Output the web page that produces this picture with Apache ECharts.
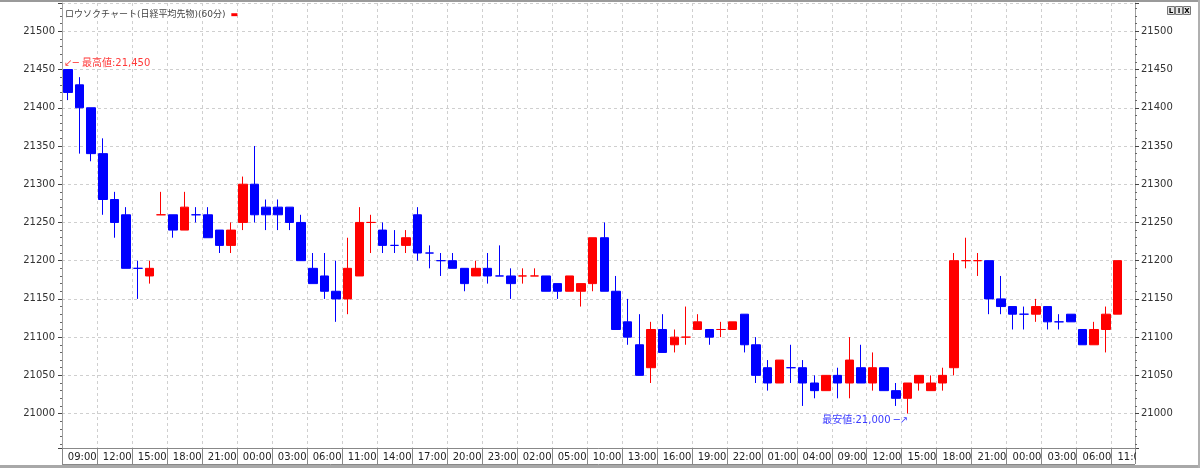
<!DOCTYPE html>
<html>
<head>
<meta charset="utf-8">
<script src="https://cdn.jsdelivr.net/npm/echarts@6/dist/echarts.min.js"></script>
<style>
  html, body { margin: 0; padding: 0; background: #fff; }
  #chart { width: 1200px; height: 468px; }
</style>
</head>
<body>
<div id="chart"></div>
<script>
// hourly labels (one per candle slot, the last slot is empty)
var times = [
    '09:00','10:00','11:00','12:00','13:00','14:00','15:00','16:00','17:00','18:00',
    '19:00','20:00','21:00','22:00','23:00','00:00','01:00','02:00','03:00','04:00',
    '05:00','06:00','07:00','10:00','11:00','12:00','13:00','14:00','15:00','16:00',
    '17:00','18:00','19:00','20:00','21:00','22:00','23:00','00:00','01:00','02:00',
    '03:00','04:00','05:00','06:00','09:00','10:00','11:00','12:00','13:00','14:00',
    '15:00','16:00','17:00','18:00','19:00','20:00','21:00','22:00','23:00','00:00',
    '01:00','02:00','03:00','04:00','05:00','08:00','09:00','10:00','11:00','12:00',
    '13:00','14:00','15:00','16:00','17:00','18:00','19:00','20:00','21:00','22:00',
    '23:00','00:00','01:00','02:00','03:00','04:00','05:00','06:00','07:00','10:00',
    '11:00','12:00'
];

var open = [
    21450,21430,21400,21340,21280,21260,21190,21180,21260,21260,
    21240,21260,21260,21240,21220,21250,21300,21270,21270,21270,
    21250,21190,21180,21160,21150,21180,21250,21240,21220,21220,
    21260,21210,21200,21200,21190,21180,21190,21180,21180,21180,
    21180,21180,21170,21160,21160,21170,21230,21160,21120,21090,
    21060,21110,21090,21100,21110,21110,21110,21110,21130,21090,
    21060,21040,21060,21060,21040,21030,21050,21040,21060,21040,
    21060,21030,21020,21040,21030,21040,21060,21200,21200,21200,
    21150,21140,21130,21130,21140,21120,21130,21110,21090,21110,
    21130
];
var close = [
    21420,21400,21340,21280,21250,21190,21190,21190,21260,21240,
    21270,21260,21230,21220,21240,21300,21260,21260,21260,21250,
    21200,21170,21160,21150,21190,21250,21250,21220,21220,21230,
    21210,21210,21200,21190,21170,21190,21180,21180,21170,21180,
    21180,21160,21160,21180,21170,21230,21160,21110,21100,21050,
    21110,21080,21100,21100,21120,21100,21110,21120,21090,21050,
    21040,21070,21060,21040,21030,21050,21040,21070,21040,21060,
    21030,21020,21040,21050,21040,21050,21200,21200,21200,21150,
    21140,21130,21130,21140,21120,21120,21120,21090,21110,21130,
    21200
];
var low = [
    21410,21340,21330,21260,21230,21190,21150,21170,21260,21230,
    21240,21250,21230,21210,21210,21240,21250,21240,21240,21240,
    21200,21170,21150,21120,21130,21180,21210,21210,21210,21210,
    21200,21190,21180,21190,21160,21180,21170,21180,21150,21170,
    21180,21160,21150,21160,21140,21160,21160,21110,21090,21050,
    21040,21080,21080,21090,21110,21090,21100,21110,21080,21040,
    21030,21040,21040,21010,21020,21030,21020,21020,21040,21030,
    21030,21010,21000,21030,21030,21030,21050,21190,21180,21130,
    21130,21110,21110,21120,21110,21110,21120,21090,21090,21080,
    21130
];
var high = [
    21450,21440,21400,21360,21290,21270,21200,21200,21290,21260,
    21290,21270,21270,21240,21250,21310,21350,21280,21280,21270,
    21260,21210,21210,21200,21230,21270,21260,21250,21240,21240,
    21270,21220,21210,21210,21190,21200,21210,21220,21190,21190,
    21190,21180,21170,21180,21170,21230,21250,21180,21150,21130,
    21120,21130,21110,21140,21130,21110,21120,21120,21130,21100,
    21070,21070,21090,21070,21050,21050,21060,21100,21090,21080,
    21060,21040,21040,21050,21050,21060,21210,21230,21210,21200,
    21180,21140,21140,21150,21140,21130,21130,21110,21120,21140,
    21200
];
// doji candles (open == close) drawn in red; the other dojis are blue
var redDoji = [8, 26, 39, 40, 53, 56, 77, 78];

var RED = '#ff0000', BLUE = '#0000ff';
var FONT = 'DejaVu Sans, "Noto Sans CJK JP", sans-serif';

var candles = open.map(function (o, i) {
    var item = { value: [o, close[i], low[i], high[i]] };
    if (o === close[i]) {
        var c = redDoji.indexOf(i) >= 0 ? RED : BLUE;
        item.itemStyle = { color: c, color0: c, borderColor: c, borderColor0: c, borderColorDoji: c };
    }
    return item;
});

function fmt(v) {
    return String(v).replace(/\B(?=(\d{3})+(?!\d))/g, ',');
}

var yCommon = {
    type: 'value',
    min: 20955,
    max: 21537,
    splitNumber: 12,
    minInterval: 50,
    maxInterval: 50,
    axisLine: { show: true, lineStyle: { color: '#a0a0a0' } },
    axisTick: { show: true, length: 4, lineStyle: { color: '#444' } },
    minorTick: { show: true, splitNumber: 5, length: 2, lineStyle: { color: '#666' } },
    axisLabel: {
        showMinLabel: false, showMaxLabel: false,
        color: '#333', fontSize: 10, fontFamily: FONT,
        formatter: function (v) { return String(v); }
    }
};

var chart = echarts.init(document.getElementById('chart'));

var option = {
    animation: false,
    backgroundColor: '#fff',
    title: {
        left: 65, top: 6, padding: 0,
        text: '{t|ロウソクチャート(日経平均先物)(60分)} {r|▬}',
        textStyle: {
            fontWeight: 'normal',
            rich: {
                t: { fontSize: 9, color: '#444', fontWeight: 'normal', fontFamily: FONT },
                r: { fontSize: 8, color: RED, fontWeight: 'normal', fontFamily: FONT }
            }
        }
    },
    grid: { left: 62, right: 65, top: 3, bottom: 20 },
    xAxis: {
        type: 'category',
        data: times,
        boundaryGap: true,
        axisLine: { lineStyle: { color: '#888' } },
        axisTick: { show: true, interval: 2, length: 16, lineStyle: { color: '#888' } },
        axisLabel: {
            interval: 2, align: 'left', margin: 4,
            color: '#222', fontSize: 10, fontFamily: FONT
        },
        splitLine: { show: true, interval: 2, lineStyle: { color: '#cfcfcf', type: [3, 3] } }
    },
    yAxis: [
        Object.assign({}, yCommon, {
            position: 'left',
            axisLabel: Object.assign({}, yCommon.axisLabel, { margin: 7 }),
            splitLine: { show: true, lineStyle: { color: '#cfcfcf', type: [3, 3] } }
        }),
        Object.assign({}, yCommon, {
            position: 'right',
            axisLabel: Object.assign({}, yCommon.axisLabel, { margin: 6 }),
            splitLine: { show: false }
        })
    ],
    series: [{
        type: 'candlestick',
        data: candles,
        barWidth: 9,
        itemStyle: {
            color: RED, color0: BLUE,
            borderColor: RED, borderColor0: BLUE,
            borderWidth: 1
        },
        markPoint: {
            symbol: 'circle',
            symbolSize: 1,
            itemStyle: { color: 'rgba(0,0,0,0)' },
            data: [{
                type: 'max', valueDim: 'highest',
                label: {
                    position: 'right', distance: 0, offset: [-4, -6],
                    color: '#ff3a3a', fontSize: 10, fontFamily: FONT,
                    formatter: function (p) { return '↙─ 最高値:' + fmt(p.value); }
                }
            }, {
                type: 'min', valueDim: 'lowest',
                label: {
                    position: 'left', distance: 0, offset: [1, 7],
                    color: '#3a3aff', fontSize: 10, fontFamily: FONT,
                    formatter: function (p) { return '最安値:' + fmt(p.value) + ' ─↗'; }
                }
            }]
        },
        markLine: {
            silent: true,
            symbol: 'none',
            lineStyle: { opacity: 0 },
            data: [{ yAxis: close[close.length - 1] }],
            label: {
                position: 'end', distance: 2,
                backgroundColor: '#878787', color: '#e6e6e6',
                padding: [2, 14, 2, 14],
                fontSize: 10, fontFamily: FONT,
                formatter: function (p) { return fmt(p.value); }
            }
        }
    }],
    graphic: [
        // cover x labels running past the right axis
        { type: 'rect', z: 100, shape: { x: 1136, y: 449, width: 62, height: 16 }, style: { fill: '#fff' } },
        { type: 'line', z: 100, shape: { x1: 62, y1: 464.5, x2: 1135, y2: 464.5 }, style: { stroke: '#888' } },
        { type: 'rect', z: 100, shape: { x: 0, y: 465, width: 1200, height: 3 }, style: { fill: '#a8a8a8' } },
        { type: 'rect', z: 100, shape: { x: 0, y: 0, width: 1200, height: 2 }, style: { fill: '#9a9a9a' } },
        { type: 'rect', z: 100, shape: { x: 1198, y: 0, width: 2, height: 468 }, style: { fill: '#b0b0b0' } },
        {
            type: 'group', left: 1167, top: 6, z: 100,
            children: ['L', 'I', 'X'].map(function (s, i) {
                return {
                    type: 'group', x: i * 8,
                    children: [
                        { type: 'rect', shape: { x: 0, y: 0, width: 7, height: 8 }, style: { fill: '#e4e4e4', stroke: '#777', lineWidth: 1 } },
                        { type: 'text', style: { x: 3.5, y: 4.5, text: s, fill: '#000', font: 'bold 7px DejaVu Sans', align: 'center', verticalAlign: 'middle' } }
                    ]
                };
            })
        }
    ]
};

chart.setOption(option);
</script>
</body>
</html>
